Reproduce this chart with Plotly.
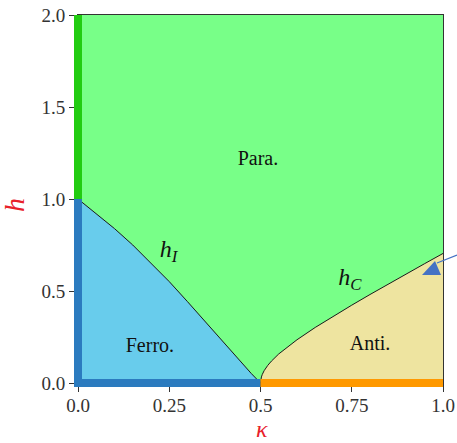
import plotly.graph_objects as go

# Phase boundaries of the ANNNI chain
kappa_I = [0.0, 0.05, 0.10, 0.15, 0.20, 0.25, 0.30, 0.35, 0.40, 0.45, 0.475, 0.50]
h_I = [1.0, 0.922, 0.839, 0.750, 0.653, 0.551, 0.442, 0.329, 0.216, 0.105, 0.051, 0.0]

kappa_C = [0.5, 0.501, 0.5025, 0.505, 0.51, 0.52, 0.53, 0.55, 0.6, 0.65, 0.7,
           0.75, 0.8, 0.85, 0.9, 0.95, 1.0]
h_C = [0.0, 0.021, 0.033, 0.047, 0.067, 0.096, 0.119, 0.158, 0.235, 0.302, 0.364,
       0.423, 0.481, 0.538, 0.594, 0.649, 0.704]

# Exactly solvable lines along the axes: (start, end, colour)
h_axis_segments = [(0.0, 1.0, "#2b7bbf"), (1.0, 2.0, "#22cc11")]
kappa_axis_segments = [(0.0, 0.5, "#2b7bbf"), (0.5, 1.0, "#ff9900")]

# Region names and their positions (kappa, h)
region_names = ["Para.", "Ferro.", "Anti."]
region_kappa = [0.493, 0.197, 0.80]
region_h = [1.21, 0.196, 0.207]

curve_names = ["<i>h</i><sub><i>I</i></sub>", "<i>h</i><sub><i>C</i></sub>"]
curve_kappa = [0.248, 0.745]
curve_h = [0.715, 0.565]

x_ticks = [0.0, 0.25, 0.5, 0.75, 1.0]
x_ticktext = ["0.0", "0.25", "0.5", "0.75", "1.0"]
y_ticks = [0.0, 0.5, 1.0, 1.5, 2.0]
y_ticktext = ["0.0", "0.5", "1.0", "1.5", "2.0"]

X_MAX, Y_MAX = 1.0, 2.0
W, H = 457, 443
ML, MR, MT, MB = 78, 14, 15, 60
PW, PH = W - ML - MR, H - MT - MB
BAR = 8  # thickness of the axis bars in px

PARA = "#78ff88"
FERRO = "#68ccec"
ANTI = "#eee4a0"
FONT = "Liberation Serif, DejaVu Serif, serif"
TICKFONT = dict(family=FONT, size=19, color="#333333")
RED = "#e8202a"

fig = go.Figure()

fig.add_trace(go.Scatter(x=kappa_I, y=h_I, mode="lines", fill="tozeroy",
                         fillcolor=FERRO, line=dict(color="#1a1a1a", width=1),
                         hoverinfo="skip"))
fig.add_trace(go.Scatter(x=kappa_C, y=h_C, mode="lines", fill="tozeroy",
                         fillcolor=ANTI, line=dict(color="#1a1a1a", width=1),
                         hoverinfo="skip"))

fig.add_trace(go.Scatter(x=region_kappa, y=region_h, mode="text", text=region_names,
                         textfont=dict(family=FONT, size=20, color="#111111"),
                         hoverinfo="skip"))
fig.add_trace(go.Scatter(x=curve_kappa, y=curve_h, mode="text", text=curve_names,
                         textfont=dict(family=FONT, size=24, color="#111111"),
                         hoverinfo="skip"))

shapes = []
half = BAR / 2
# bars along the h axis (kappa = 0)
for i, (a, b, col) in enumerate(h_axis_segments):
    y0 = a / Y_MAX - (half / PH if i == 0 else 0)
    shapes.append(dict(type="rect", xref="paper", yref="paper",
                       x0=-half / PW, x1=half / PW, y0=y0, y1=b / Y_MAX,
                       fillcolor=col, line=dict(width=0), layer="above"))
# bars along the kappa axis (h = 0)
for i, (a, b, col) in enumerate(kappa_axis_segments):
    x0 = a / X_MAX - (half / PW if i == 0 else 0)
    shapes.append(dict(type="rect", xref="paper", yref="paper",
                       x0=x0, x1=b / X_MAX, y0=-half / PH, y1=half / PH,
                       fillcolor=col, line=dict(width=0), layer="above"))


def px(x, y):
    """Convert pixel position in the figure to paper coordinates."""
    return (x - ML) / PW, (H - MB - y) / PH


# pointer arrow on the right side
ax0, ay0 = px(457, 255)
ax1, ay1 = px(437, 263)
t1, t2, t3 = px(435, 261), px(422, 275), px(441, 275)
shapes.append(dict(type="line", xref="paper", yref="paper", x0=ax0, y0=ay0, x1=ax1, y1=ay1,
                   line=dict(color="#4472c4", width=1.2), layer="above"))
shapes.append(dict(type="path", xref="paper", yref="paper",
                   path=f"M {t1[0]} {t1[1]} L {t2[0]} {t2[1]} L {t3[0]} {t3[1]} Z",
                   fillcolor="#4472c4", line=dict(width=0), layer="above"))

# axis titles
kx, ky = px(262, 429)
hx, hy = px(14, 205)
annotations = [
    dict(text="<i>κ</i>", x=kx, y=ky, xref="paper", yref="paper", showarrow=False,
         xanchor="center", yanchor="middle", font=dict(family=FONT, size=24, color=RED)),
    dict(text="<i>h</i>", x=hx, y=hy, xref="paper", yref="paper", showarrow=False,
         textangle=-90, xanchor="center", yanchor="middle",
         font=dict(family=FONT, size=28, color=RED)),
]

fig.update_layout(
    width=W, height=H,
    margin=dict(l=ML, r=MR, t=MT, b=MB, autoexpand=False),
    paper_bgcolor="white", plot_bgcolor=PARA,
    showlegend=False,
    shapes=shapes,
    annotations=annotations,
    font=dict(family=FONT, size=19, color="#333333"),
)
fig.update_xaxes(range=[0, X_MAX], tickvals=x_ticks, ticktext=x_ticktext,
                 tickfont=TICKFONT, automargin=False, ticklabelstandoff=-3,
                 ticks="outside", ticklen=8, tickcolor="#333333", tickwidth=1,
                 showgrid=False, zeroline=False, showline=True, mirror=True,
                 linecolor="#333333", linewidth=1)
fig.update_yaxes(range=[0, Y_MAX], tickvals=y_ticks, ticktext=y_ticktext,
                 tickfont=TICKFONT, automargin=False,
                 ticks="outside", ticklen=8, tickcolor="#333333", tickwidth=1,
                 showgrid=False, zeroline=False, showline=True, mirror=True,
                 linecolor="#333333", linewidth=1)

fig.write_html("out.html")
